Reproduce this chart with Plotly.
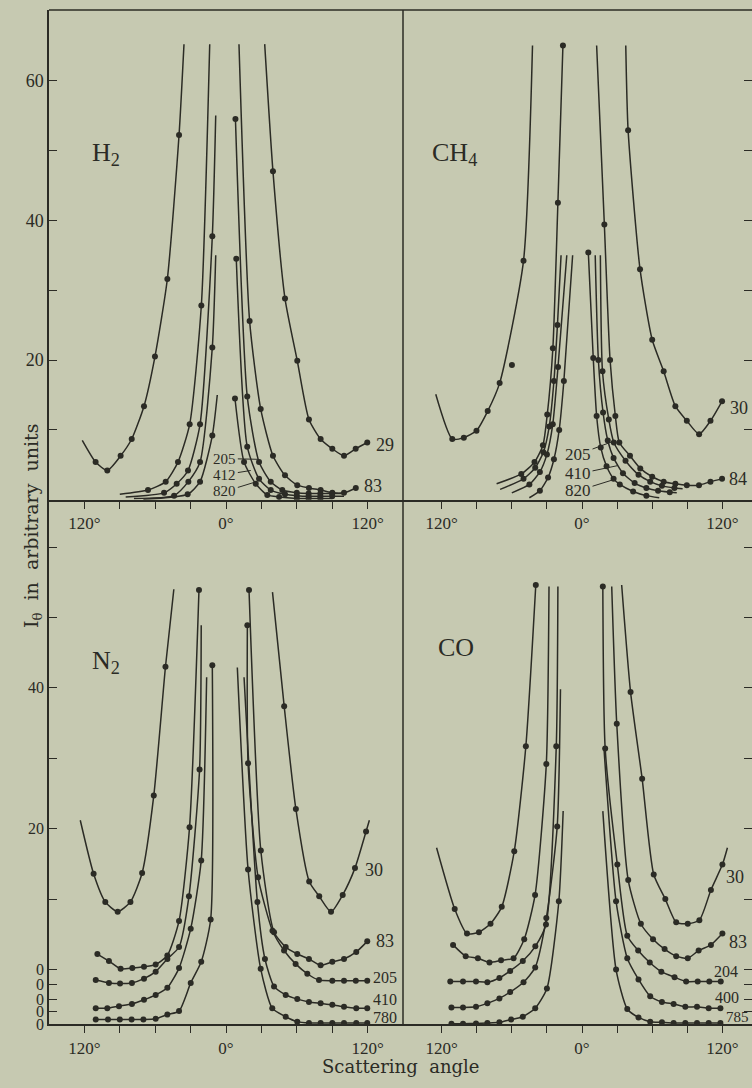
import plotly.graph_objects as go

# ---------------- axis ticks ----------------
ANG_TICKS = [-120, -90, -60, -30, 0, 30, 60, 90, 120]
ANG_TICK_TEXT = ['120°', '', '', '', '0°', '', '', '', '120°']
TOP_Y_TICKS = [10, 20, 30, 40, 50, 60]
TOP_Y_TEXT = ['', '20', '', '40', '', '60']

# ---------------- H2 (top left) : (angle, intensity) ----------------
H2_29_L = [(-121.8, 8.5), (-110.5, 5.4), (-100.6, 4.2), (-89.3, 6.3), (-79.9, 8.7), (-69.5, 13.4),
           (-60.2, 20.5), (-49.7, 31.6), (-39.8, 52.2), (-35.6, 65.2)]
H2_29_R = [(32.8, 65.2), (39.8, 47.0), (50.0, 28.8), (60.4, 19.9), (70.3, 11.5), (80.2, 8.7),
           (90.1, 7.3), (100.0, 6.3), (109.9, 7.3), (119.7, 8.2)]
H2_83_L = [(-90.0, 0.8), (-66.1, 1.4), (-51.1, 2.6), (-40.7, 5.4), (-30.8, 10.8), (-20.9, 27.8), (-13.8, 65.2)]
H2_83_R = [(11.0, 65.2), (20.0, 25.6), (29.4, 13.0), (39.8, 6.3), (50.0, 3.5), (60.4, 2.1), (70.3, 1.7),
           (80.2, 1.4), (90.1, 1.0), (100.0, 1.0), (110.0, 1.7)]
H2_205_L = [(-85.0, 0.4), (-52.5, 1.0), (-41.8, 2.3), (-32.2, 4.2), (-22.0, 10.8), (-11.6, 37.7), (-8.7, 55.0)]
H2_205_R = [(8.0, 54.5), (18.0, 14.8), (28.0, 5.4), (37.9, 2.6), (47.7, 1.4), (60.0, 1.0), (70.0, 0.9),
            (80.0, 0.9), (90.0, 0.9), (100.0, 0.9)]
H2_412_L = [(-78.0, 0.2), (-44.0, 0.6), (-31.9, 2.6), (-22.0, 5.4), (-11.6, 21.8), (-8.7, 35.0)]
H2_412_R = [(8.7, 34.5), (18.0, 7.6), (28.0, 3.0), (37.9, 1.4), (50.0, 0.8), (60.0, 0.6), (70.0, 0.5),
            (80.0, 0.5), (90.0, 0.5), (100.0, 0.5)]
H2_820_L = [(-70.0, 0.1), (-32.5, 0.8), (-22.0, 2.6), (-11.6, 9.2), (-7.4, 15.0)]
H2_820_R = [(7.6, 14.5), (15.3, 5.4), (25.2, 2.3), (35.0, 0.7), (45.0, 0.4), (60.0, 0.2), (70.0, 0.2),
            (80.0, 0.2), (90.0, 0.2)]

# ---------------- CH4 (top right) ----------------
CH4_30_L = [(-125.0, 15.1), (-110.9, 8.7), (-101.0, 8.9), (-90.2, 9.9), (-80.6, 12.7), (-70.4, 16.7),
            (-50.0, 34.2), (-42.3, 65.0)]
CH4_30_STRAY = [(-59.9, 19.3)]
CH4_30_R = [(37.4, 65.0), (39.4, 52.9), (49.6, 33.0), (60.0, 22.9), (69.8, 18.4), (79.8, 13.4),
            (89.6, 11.3), (100.1, 9.4), (109.8, 11.3), (119.7, 14.1)]
CH4_84_L = [(-73.0, 2.3), (-51.9, 3.7), (-40.6, 5.4), (-33.4, 7.8), (-29.7, 12.2), (-24.9, 21.7),
            (-20.6, 42.5), (-16.3, 65.0)]
CH4_84_R = [(12.5, 65.0), (19.1, 39.4), (24.0, 20.0), (28.5, 12.0), (31.9, 8.2), (41.0, 6.3), (49.8, 4.5),
            (60.0, 3.3), (69.8, 2.6), (79.8, 2.3), (89.6, 2.1), (100.0, 2.1), (109.8, 2.6), (119.7, 3.0)]
CH4_205_L = [(-70.0, 1.5), (-50.0, 3.0), (-40.0, 4.6), (-33.0, 6.8), (-28.0, 10.5), (-24.0, 17.0),
             (-21.0, 25.0), (-17.9, 35.0)]
CH4_205_R = [(15.7, 35.0), (17.5, 18.4), (22.9, 11.5), (27.2, 8.2), (37.2, 5.6), (48.3, 3.6), (58.3, 2.6),
             (68.3, 2.0), (79.0, 1.7), (86.0, 1.6)]
CH4_410_L = [(-60.0, 1.0), (-45.0, 2.2), (-36.0, 4.0), (-30.0, 6.5), (-25.0, 10.8), (-20.5, 19.0), (-13.0, 35.0)]
CH4_410_R = [(11.3, 35.0), (14.0, 20.0), (18.0, 12.5), (22.0, 8.5), (27.0, 6.0), (35.0, 3.8), (45.0, 2.4),
             (55.0, 1.7), (65.0, 1.3), (75.0, 1.1), (81.0, 1.0)]
CH4_820_L = [(-45.0, 0.3), (-36.0, 1.3), (-29.0, 3.2), (-24.0, 5.8), (-19.5, 10.0), (-15.5, 17.0), (-8.0, 35.0)]
CH4_820_R = [(5.4, 35.4), (9.6, 20.3), (12.5, 12.0), (16.0, 7.5), (21.0, 4.8), (27.0, 3.0), (32.3, 2.2),
             (43.7, 1.2), (55.0, 0.6), (66.0, 0.3)]

# ---------------- N2 (bottom left) ; each curve drawn above its own zero ----------------
N2_OFFSETS = [7.8, 5.7, 3.6, 1.8, 0.0]          # zeros of curves 30, 83, 205, 410, 780
N2_30_L = [(-123.5, 21.2), (-112.2, 13.6), (-102.3, 9.6), (-91.8, 8.2), (-81.0, 9.6), (-71.1, 13.7),
           (-61.2, 24.7), (-51.3, 43.0), (-44.2, 54.0)]
N2_30_R = [(39.4, 53.6), (49.3, 37.4), (59.2, 22.8), (70.5, 12.5), (79.0, 10.4), (89.0, 8.2), (98.9, 10.6),
           (109.3, 14.4), (118.7, 19.6), (121.5, 21.2)]
N2_83_L = [(-109.0, 4.3), (-99.2, 3.3), (-89.3, 2.2), (-79.4, 2.3), (-69.5, 2.5), (-59.6, 2.8), (-49.7, 4.1),
           (-39.8, 9.0), (-30.9, 22.3), (-22.9, 56.0)]
N2_83_R = [(19.5, 56.0), (29.5, 19.0), (40.7, 7.4), (50.6, 5.3), (60.4, 4.3), (70.3, 3.6), (80.2, 2.7),
           (90.1, 3.2), (100.0, 3.6), (110.4, 4.6), (119.7, 6.1)]
N2_205_L = [(-110.4, 2.7), (-99.2, 2.3), (-89.8, 2.2), (-79.7, 2.3), (-69.5, 2.9), (-59.6, 3.9), (-49.7, 5.7),
            (-39.8, 7.4), (-31.4, 14.6), (-22.4, 32.6), (-21.0, 53.1)]
N2_205_R = [(18.1, 53.1), (18.7, 33.5), (27.2, 17.3), (39.4, 9.7), (49.2, 6.9), (59.0, 5.0), (68.9, 3.6),
            (78.8, 2.7), (90.1, 2.6), (100.0, 2.6), (110.0, 2.6), (119.7, 2.6)]
N2_410_L = [(-110.4, 0.5), (-100.6, 0.5), (-90.7, 0.8), (-79.7, 1.1), (-69.5, 1.7), (-59.6, 2.4), (-49.7, 3.4),
            (-39.8, 6.2), (-29.9, 11.8), (-21.0, 21.5), (-16.4, 47.5)]
N2_410_R = [(15.3, 47.5), (26.6, 15.6), (33.0, 7.5), (40.7, 3.6), (50.6, 2.4), (60.4, 1.8), (70.3, 1.4),
            (80.2, 1.2), (90.1, 1.0), (100.0, 0.7), (110.4, 0.5), (119.7, 0.5)]
N2_780_L = [(-110.4, 0.7), (-100.0, 0.7), (-90.0, 0.7), (-80.0, 0.7), (-70.0, 0.7), (-59.6, 0.8), (-49.7, 1.4),
            (-39.8, 1.9), (-29.9, 5.9), (-21.0, 8.9), (-13.0, 14.9), (-11.6, 51.0)]
N2_780_R = [(9.6, 50.7), (18.7, 22.0), (29.4, 7.9), (39.2, 2.3), (50.6, 1.1), (60.4, 0.4), (70.3, 0.2),
            (80.2, 0.2), (90.1, 0.2), (100.0, 0.2), (110.4, 0.2), (119.7, 0.2)]

# ---------------- CO (bottom right) ----------------
CO_OFFSETS = [7.8, 5.7, 3.6, 1.8, 0.0]          # zeros of curves 30, 83, 204, 400, 785
CO_30_L = [(-124.3, 17.3), (-108.8, 8.6), (-98.3, 5.1), (-88.1, 5.3), (-78.2, 6.5), (-68.6, 8.9),
           (-57.9, 16.8), (-48.0, 31.7), (-39.5, 54.6)]
CO_30_R = [(33.9, 54.6), (41.5, 39.4), (51.4, 27.1), (61.3, 13.5), (71.2, 10.0), (80.5, 6.7), (90.4, 6.5),
           (100.3, 7.0), (110.2, 11.3), (120.0, 14.9), (124.3, 17.3)]
CO_83_L = [(-110.2, 5.6), (-99.4, 4.0), (-89.0, 3.7), (-79.1, 3.1), (-69.2, 3.4), (-58.5, 3.7), (-49.4, 6.4),
           (-40.1, 12.7), (-30.5, 31.3), (-28.2, 56.5)]
CO_83_R = [(25.4, 56.5), (29.7, 37.0), (39.5, 14.8), (50.3, 8.6), (60.7, 6.4), (70.6, 5.0), (80.5, 4.0),
           (90.4, 3.7), (99.7, 4.8), (110.2, 5.6), (120.0, 7.2)]
CO_204_L = [(-112.6, 2.5), (-101.7, 2.5), (-90.6, 2.5), (-80.9, 2.4), (-70.6, 3.0), (-61.4, 4.0), (-50.6, 5.4),
            (-39.9, 7.5), (-30.8, 10.6), (-22.0, 35.9), (-20.6, 58.6)]
CO_204_R = [(17.8, 58.6), (19.8, 35.6), (30.2, 19.1), (38.7, 9.0), (48.0, 6.9), (57.9, 5.2), (67.8, 3.9),
            (79.1, 3.1), (89.0, 2.5), (98.9, 2.5), (108.8, 2.5), (118.6, 2.5)]
CO_400_L = [(-111.6, 0.6), (-101.7, 0.6), (-90.6, 0.7), (-80.9, 1.2), (-70.6, 1.9), (-61.4, 2.8), (-50.0, 4.2),
            (-40.0, 6.3), (-30.5, 13.3), (-21.2, 26.3), (-18.4, 45.8)]
CO_400_R = [(18.9, 37.1), (29.1, 15.7), (38.7, 7.6), (48.3, 4.6), (58.3, 2.2), (68.3, 1.4), (78.3, 1.1),
            (88.3, 0.7), (98.3, 0.7), (108.3, 0.5), (118.3, 0.5)]
CO_785_L = [(-111.6, 0.1), (-101.7, 0.1), (-90.6, 0.15), (-80.9, 0.2), (-70.6, 0.3), (-60.6, 0.7), (-50.6, 1.1),
            (-40.0, 2.3), (-30.0, 5.1), (-19.8, 17.5), (-16.1, 30.3)]
CO_785_R = [(17.8, 30.3), (29.1, 7.8), (38.7, 2.2), (48.3, 1.0), (58.3, 0.4), (68.3, 0.3), (78.3, 0.2),
            (88.3, 0.2), (98.3, 0.2), (108.3, 0.2), (118.3, 0.2)]

# ---------------- style ----------------
BG = '#c6c9b1'
INK = '#2b2b25'
FONT = 'Liberation Serif'
WIDE = 'DejaVu Serif'
W, H = 752, 1088
PX_L, PX_M, PX_R = 49, 403, 752
PY_T, PY_M, PY_B = 10, 504, 1033
LW = 1.5
MS = 6


def fx(p):
    return p / W


def fy(p):
    return 1 - p / H


fig = go.Figure()


def branch(pts, xa, ya, off, mark_first=True, mark_last=True):
    xs = [p[0] for p in pts]
    ys = [p[1] + off for p in pts]
    fig.add_trace(go.Scatter(x=xs, y=ys, mode='lines', xaxis=xa, yaxis=ya,
                             line=dict(color=INK, width=LW, shape='spline', smoothing=0.6),
                             hoverinfo='skip', showlegend=False))
    idx = list(range(len(pts)))
    if not mark_first:
        idx = idx[1:]
    if not mark_last:
        idx = idx[:-1]
    fig.add_trace(go.Scatter(x=[xs[i] for i in idx], y=[ys[i] for i in idx], mode='markers',
                             xaxis=xa, yaxis=ya, marker=dict(size=MS, color=INK),
                             hoverinfo='skip', showlegend=False))


def dots(pts, xa, ya, off=0.0):
    fig.add_trace(go.Scatter(x=[p[0] for p in pts], y=[p[1] + off for p in pts], mode='markers',
                             xaxis=xa, yaxis=ya, marker=dict(size=MS, color=INK),
                             hoverinfo='skip', showlegend=False))


# H2
branch(H2_29_L, 'x', 'y', 0, False, False)
branch(H2_29_R, 'x', 'y', 0, False, True)
branch(H2_83_L, 'x', 'y', 0, False, False)
branch(H2_83_R, 'x', 'y', 0, False, True)
branch(H2_205_L, 'x', 'y', 0, False, False)
branch(H2_205_R, 'x', 'y', 0, True, False)
branch(H2_412_L, 'x', 'y', 0, False, False)
branch(H2_412_R, 'x', 'y', 0, True, False)
branch(H2_820_L, 'x', 'y', 0, False, False)
branch(H2_820_R, 'x', 'y', 0, True, False)

# CH4
branch(CH4_30_L, 'x2', 'y2', 0, False, False)
dots(CH4_30_STRAY, 'x2', 'y2')
branch(CH4_30_R, 'x2', 'y2', 0, False, True)
branch(CH4_84_L, 'x2', 'y2', 0, False, True)
branch(CH4_84_R, 'x2', 'y2', 0, False, True)
branch(CH4_205_L, 'x2', 'y2', 0, False, False)
branch(CH4_205_R, 'x2', 'y2', 0, False, False)
branch(CH4_410_L, 'x2', 'y2', 0, False, False)
branch(CH4_410_R, 'x2', 'y2', 0, False, False)
branch(CH4_820_L, 'x2', 'y2', 0, False, False)
branch(CH4_820_R, 'x2', 'y2', 0, True, False)

# N2
o30, o83, o205, o410, o780 = N2_OFFSETS
branch(N2_30_L, 'x3', 'y3', o30, False, False)
branch(N2_30_R, 'x3', 'y3', o30, False, False)
branch(N2_83_L, 'x3', 'y3', o83, True, True)
branch(N2_83_R, 'x3', 'y3', o83, True, True)
branch(N2_205_L, 'x3', 'y3', o205, True, False)
branch(N2_205_R, 'x3', 'y3', o205, True, True)
branch(N2_410_L, 'x3', 'y3', o410, True, False)
branch(N2_410_R, 'x3', 'y3', o410, False, True)
branch(N2_780_L, 'x3', 'y3', o780, True, True)
branch(N2_780_R, 'x3', 'y3', o780, False, True)

# CO
c30, c83, c204, c400, c785 = CO_OFFSETS
branch(CO_30_L, 'x4', 'y4', c30, False, True)
branch(CO_30_R, 'x4', 'y4', c30, False, False)
branch(CO_83_L, 'x4', 'y4', c83, True, False)
branch(CO_83_R, 'x4', 'y4', c83, False, True)
branch(CO_204_L, 'x4', 'y4', c204, True, False)
branch(CO_204_R, 'x4', 'y4', c204, True, True)
branch(CO_400_L, 'x4', 'y4', c400, True, False)
branch(CO_400_R, 'x4', 'y4', c400, False, True)
branch(CO_785_L, 'x4', 'y4', c785, True, False)
branch(CO_785_R, 'x4', 'y4', c785, False, True)

# ---------------- axes ----------------
BOT_TICKS = sorted(N2_OFFSETS) + [o30 + 10 * k for k in range(1, 7)]
BOT_TEXT = ['0'] * 5 + ['', '20', '', '40', '', '']

xd_l = [fx(PX_L), fx(PX_M)]
xd_r = [fx(PX_M), 1.0]
yd_t = [fy(PY_M), fy(PY_T)]
yd_b = [fy(PY_B), fy(PY_M)]
tickfont = dict(family=FONT, size=17, color=INK)

xcommon = dict(showgrid=False, zeroline=False, showline=True, linecolor=INK, linewidth=LW,
               ticks='outside', ticklen=7, tickwidth=1.3, tickcolor=INK,
               tickvals=ANG_TICKS, ticktext=ANG_TICK_TEXT, tickfont=tickfont, fixedrange=True)
ycommon = dict(showgrid=False, zeroline=False, showline=True, linecolor=INK, linewidth=LW,
               ticks='inside', ticklen=8, tickwidth=1.3, tickcolor=INK, fixedrange=True)

fig.update_layout(
    width=W, height=H, margin=dict(l=0, r=0, t=0, b=0),
    paper_bgcolor=BG, plot_bgcolor=BG, showlegend=False,
    font=dict(family=FONT, color=INK, size=16),
    xaxis=dict(domain=xd_l, anchor='y', range=[-150, 150], **xcommon),
    xaxis2=dict(domain=xd_r, anchor='y2', range=[-153, 145.3], **xcommon),
    xaxis3=dict(domain=xd_l, anchor='y3', range=[-150, 150], **xcommon),
    xaxis4=dict(domain=xd_r, anchor='y4', range=[-153, 145.3], **xcommon),
    yaxis=dict(domain=yd_t, anchor='x', range=[0, 70.1], tickvals=TOP_Y_TICKS, ticktext=TOP_Y_TEXT,
               tickfont=dict(family=FONT, size=18, color=INK), **ycommon),
    yaxis2=dict(domain=yd_t, anchor='x2', side='right', range=[0, 70.1], tickvals=TOP_Y_TICKS,
                showticklabels=False, **ycommon),
    yaxis3=dict(domain=yd_b, anchor='x3', range=[0, 74.5], tickvals=BOT_TICKS, ticktext=BOT_TEXT,
                tickfont=dict(family=FONT, size=16, color=INK), **ycommon),
    yaxis4=dict(domain=yd_b, anchor='x4', side='right', range=[0, 74.5], tickvals=BOT_TICKS,
                showticklabels=False, **ycommon),
)

# frame lines: top border and central divider
fig.add_shape(type='line', xref='paper', yref='paper', x0=fx(PX_L), x1=1.0, y0=fy(PY_T), y1=fy(PY_T),
              line=dict(color=INK, width=LW))
fig.add_shape(type='line', xref='paper', yref='paper', x0=fx(PX_M), x1=fx(PX_M), y0=fy(PY_B), y1=fy(PY_T),
              line=dict(color=INK, width=LW))

ann = []


def label(text, x, y, xr, yr, size=18, xanchor='left', family=FONT):
    ann.append(dict(text=text, x=x, y=y, xref=xr, yref=yr, showarrow=False, xanchor=xanchor,
                    yanchor='middle', font=dict(family=family, size=size, color=INK)))


def leader(text, tx, ty, px, py, xr, yr, size=15):
    ann.append(dict(text=text, x=px, y=py, ax=tx, ay=ty, xref=xr, yref=yr, axref=xr, ayref=yr,
                    showarrow=True, arrowhead=0, arrowwidth=1, arrowcolor=INK, standoff=0,
                    font=dict(family=FONT, size=size, color=INK)))


# panel names
label('H<sub>2</sub>', fx(106), fy(155), 'paper', 'paper', 26, 'center')
label('CH<sub>4</sub>', fx(455), fy(155), 'paper', 'paper', 26, 'center')
label('N<sub>2</sub>', fx(106), fy(668), 'paper', 'paper', 26, 'center')
label('CO', fx(456), fy(653), 'paper', 'paper', 26, 'center')

# H2 end labels
label('29', 125, 7.8, 'x', 'y')
label('83', 115, 2.0, 'x', 'y')
leader('205', -1, 5.9, 27, 5.8, 'x', 'y')
leader('412', -1, 3.6, 21, 4.2, 'x', 'y')
leader('820', -1, 1.2, 24, 2.5, 'x', 'y')

# CH4 labels
label('30', 125, 13.2, 'x2', 'y2')
label('84', 124, 3.0, 'x2', 'y2')
leader('205', -3.4, 6.5, 27.2, 8.4, 'x2', 'y2', 17)
leader('410', -3.4, 3.7, 30.6, 4.9, 'x2', 'y2', 17)
leader('820', -3.4, 1.3, 27.2, 2.9, 'x2', 'y2', 17)

# N2 labels
label('30', 116, 22.0, 'x3', 'y3')
label('83', 125, 11.8, 'x3', 'y3')
label('205', 123, 6.6, 'x3', 'y3', 16)
label('410', 123, 3.5, 'x3', 'y3', 16)
label('780', 123, 1.0, 'x3', 'y3', 16)

# CO labels
label('30', 121.5, 21.0, 'x4', 'y4')
label('83', 124, 11.7, 'x4', 'y4')
label('204', 111, 7.5, 'x4', 'y4', 16)
label('400', 112, 3.8, 'x4', 'y4', 16)
label('785', 121, 1.1, 'x4', 'y4', 15)

# axis titles
ann.append(dict(text='I<sub>θ</sub>  in  arbitrary  units', x=fx(18), y=fy(530), xref='paper', yref='paper',
                showarrow=False, textangle=-90, font=dict(family=WIDE, size=19, color=INK)))
ann.append(dict(text='Scattering  angle', x=fx(400), y=0.0, xref='paper', yref='paper',
                xanchor='center', yanchor='bottom', showarrow=False,
                font=dict(family=WIDE, size=18, color=INK)))

fig.update_layout(annotations=ann)
fig.write_html('out.html')
